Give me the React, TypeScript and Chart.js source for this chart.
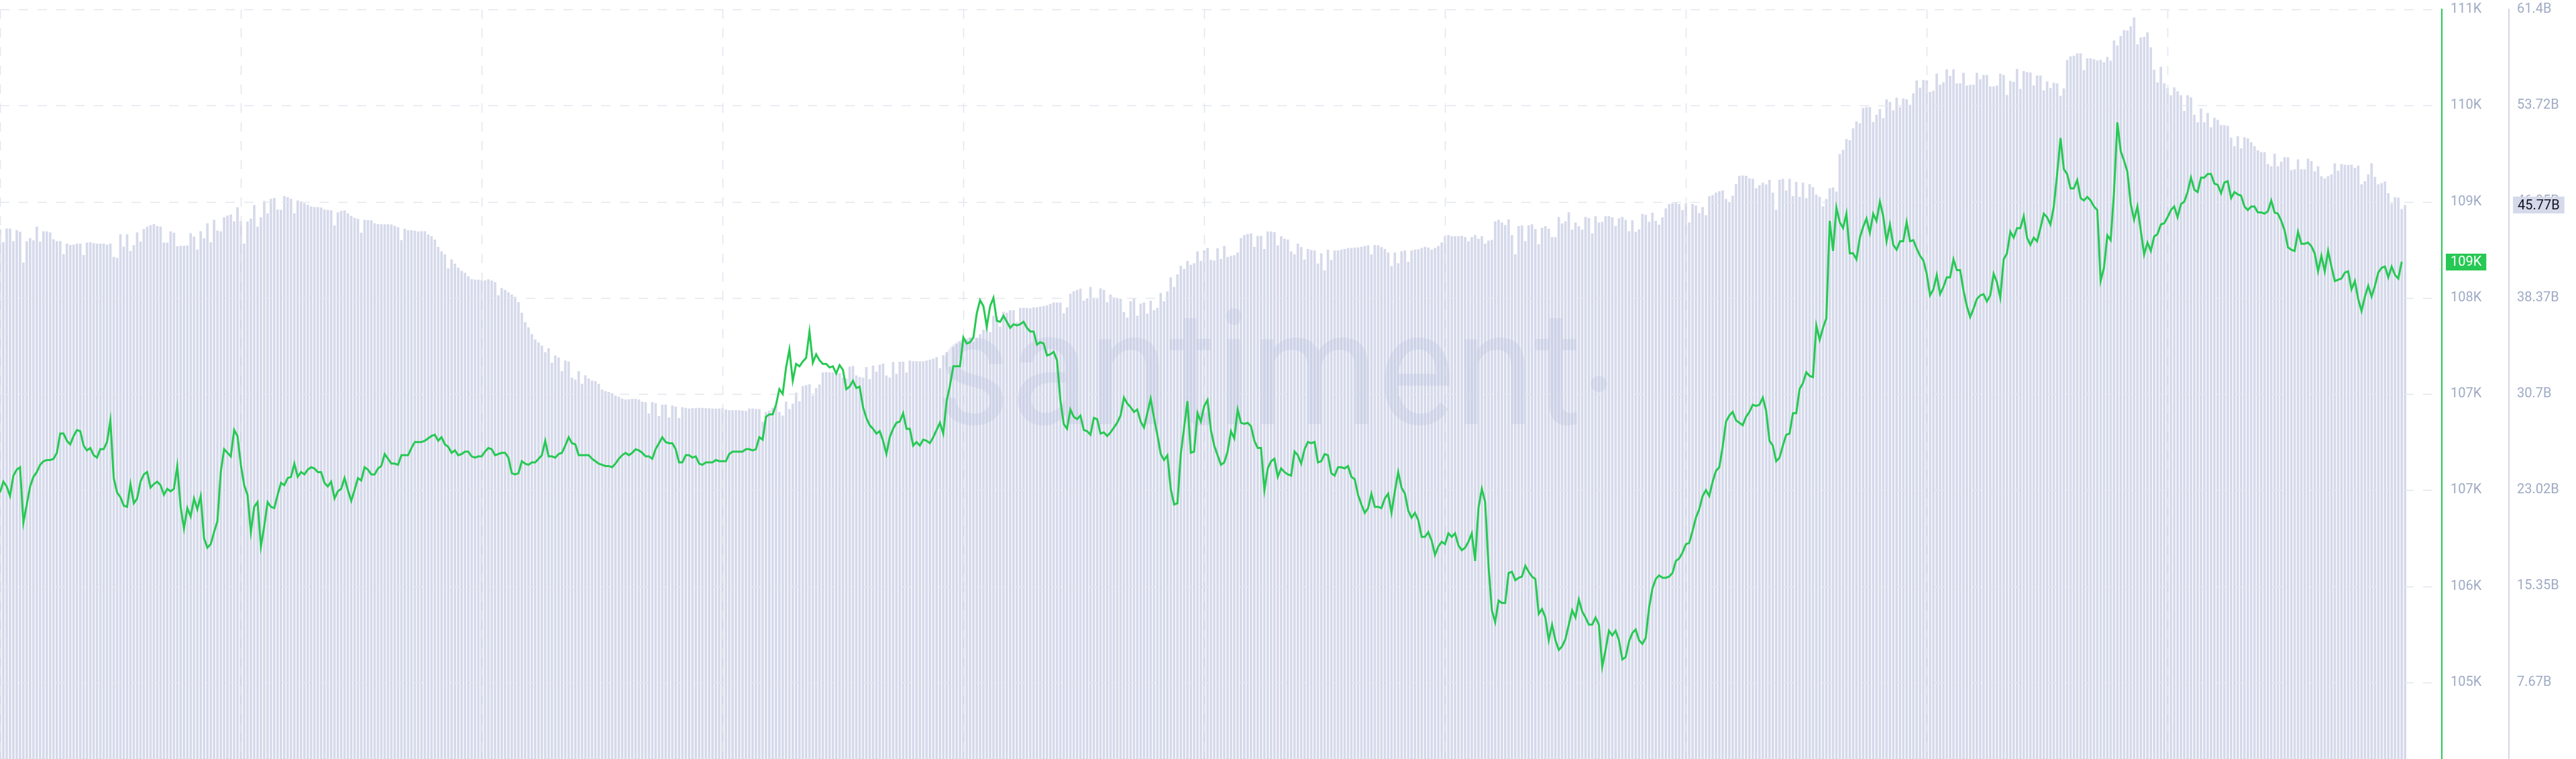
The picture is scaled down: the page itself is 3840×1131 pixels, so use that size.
import React, { useEffect, useRef } from 'react';
import { Chart, registerables } from 'chart.js';

Chart.register(...registerables);

// Hourly traded volume, billions USD (one bar per hour, 720 hours)
const volumeB: number[] = [
  43.82, 42.79, 43.89, 43.87, 42.89, 43.77, 43.63, 41.17, 42.87, 43.13,
  42.94, 44.04, 42.84, 43.68, 43.66, 43.58, 43.03, 42.89, 42.89, 41.84,
  42.68, 42.58, 42.60, 42.68, 42.68, 41.77, 42.77, 42.79, 42.72, 42.68,
  42.68, 42.68, 42.60, 42.68, 41.62, 41.55, 43.44, 42.44, 43.42, 42.10,
  42.56, 43.58, 42.84, 43.85, 44.04, 44.16, 44.25, 44.09, 44.04, 42.77,
  42.77, 43.66, 43.56, 42.48, 42.51, 42.51, 42.53, 43.51, 43.25, 42.22,
  43.68, 43.11, 44.30, 42.79, 44.59, 43.73, 43.66, 44.78, 44.92, 45.02,
  44.47, 45.59, 44.49, 42.68, 44.44, 44.68, 45.76, 44.04, 44.78, 46.09,
  45.09, 46.26, 46.33, 45.40, 45.38, 46.48, 46.38, 46.26, 45.09, 46.12,
  46.04, 45.90, 45.78, 45.64, 45.61, 45.61, 45.57, 45.40, 45.38, 45.33,
  44.13, 45.18, 45.30, 45.33, 45.09, 44.90, 44.75, 44.66, 43.56, 44.59,
  44.56, 44.54, 44.30, 44.25, 44.23, 44.23, 44.23, 44.21, 44.11, 43.99,
  42.96,
  43.87, 43.75, 43.75, 43.72, 43.65, 43.68, 43.68, 43.41, 43.27, 43.01,
  42.43, 42.07, 41.83, 40.71, 41.43, 41.07, 40.76, 40.52, 40.35, 40.07,
  39.85, 39.80, 39.80, 39.78, 39.75, 39.83, 39.73, 39.61, 38.56, 39.13,
  38.99, 38.80, 38.63, 38.44, 38.01, 37.17, 36.41, 36.00, 35.45, 35.04,
  34.80, 34.54, 34.02, 34.33, 33.18, 33.75, 33.59, 32.51, 33.35, 33.27,
  31.98, 31.82, 32.51, 31.50, 32.17, 31.91, 31.74, 31.70, 31.48, 31.03,
  30.91, 30.84, 30.74, 30.55, 30.45, 30.31, 30.24, 30.26, 30.29, 30.29,
  30.24, 30.07, 30.02, 29.11, 30.02, 29.95, 28.92, 29.83, 29.83, 28.80,
  29.76, 29.66, 28.76, 29.62, 29.57, 29.52, 29.54, 29.54, 29.57, 29.57,
  29.54, 29.54, 29.52, 29.50, 29.52, 29.57, 29.43, 29.38, 29.38, 29.38,
  29.38, 29.35, 29.33, 29.52, 29.52, 29.47, 29.47, 28.47, 29.23, 29.35,
  29.57, 29.76, 29.23, 28.95, 30.07, 29.47, 29.90, 30.79, 30.09, 31.31,
  31.39, 31.46, 30.55, 31.15, 31.43, 32.39, 32.44, 32.41, 32.41, 32.34,
  32.34, 31.98, 31.91, 32.87, 32.92, 32.15, 32.03, 31.98, 32.82, 31.86,
  32.94, 32.46, 33.01, 33.11, 32.15, 31.98, 33.23, 32.29, 33.25, 33.25,
  32.39, 33.35, 33.30, 33.30, 33.30, 33.30, 33.35, 33.42, 33.49, 33.61,
  32.75, 33.78, 34.02, 32.87, 34.45, 34.68, 34.83, 34.97, 35.02, 35.21,
  34.85, 35.16, 35.45, 35.81, 36.41, 35.62, 36.93, 36.84, 36.05, 37.24,
  37.17, 37.36, 37.36, 36.41, 37.55, 37.55, 37.55, 37.51, 37.60, 37.60,
  37.65, 37.70, 37.75, 37.87, 37.98, 37.98, 37.98, 37.12, 37.60, 38.68,
  38.87, 38.99, 39.08, 38.13, 38.32, 39.23, 38.27, 38.27, 39.11, 38.99,
  38.01, 38.61, 38.39, 38.34, 38.27, 37.22, 36.77, 38.08, 38.27, 36.93,
  37.89, 37.98, 37.08, 38.13, 37.36, 37.55, 38.75, 38.08, 38.87, 39.99,
  39.23, 40.23, 40.90, 40.66, 41.31, 41.00, 41.12, 42.07, 41.31, 42.15,
  42.34, 41.38, 41.33, 42.31, 41.47, 42.49, 41.62, 41.70, 41.76, 41.97,
  43.13, 43.36, 43.45, 43.50, 42.43, 43.30, 43.30, 42.26, 43.65, 43.65,
  43.59, 42.55, 43.27, 43.07, 43.01, 42.05, 41.82, 42.69, 42.40, 41.41,
  42.26, 42.17, 42.14, 41.09, 41.91, 40.54, 42.20, 41.38, 42.14, 42.14,
  42.20, 42.26, 42.34, 42.34, 42.37, 42.37, 42.43, 42.49, 42.55, 41.82,
  42.58, 42.55, 42.40, 42.26, 41.97, 40.89, 41.97, 41.12, 42.08, 42.14,
  41.24, 42.14, 42.20, 42.23, 42.34, 42.43, 42.37, 42.20, 42.34, 42.49,
  42.78, 43.27, 43.36, 43.27, 43.27, 43.27, 43.30, 43.21, 42.87, 43.21,
  43.36, 43.07, 43.27, 42.69, 42.92, 42.98, 44.46, 44.58, 44.37, 44.17,
  44.61, 43.36, 41.82, 44.08, 44.14, 42.89, 44.14, 44.23, 43.85, 42.63,
  43.94, 44.08, 43.88, 43.21, 43.21, 44.81, 44.29, 44.46, 45.19, 43.79,
  44.37, 44.08, 43.79, 44.81, 44.72, 43.50, 44.87, 44.37, 44.43, 44.87,
  44.88, 44.78, 44.09, 44.71, 44.81, 44.57, 43.68, 44.54, 43.62, 43.82,
  45.05, 44.98, 44.43, 45.15, 44.50, 44.20, 44.78, 45.49, 45.84, 45.90,
  45.94, 45.84, 45.36, 45.90, 44.37, 45.84, 45.73, 45.12, 45.60, 44.95,
  46.48, 46.55, 46.76, 46.86, 46.93, 46.25, 46.01, 46.52, 47.44, 48.09,
  48.12, 48.09, 47.89, 47.85, 47.10, 47.34, 47.54, 47.41, 47.78, 46.76,
  45.39, 47.78, 47.85, 46.93, 47.85, 46.48, 47.61, 46.42, 47.54, 46.31,
  47.44, 47.20, 46.59, 46.42, 45.66, 46.25, 47.10, 47.17, 46.83, 49.83,
  50.17, 51.03, 50.93, 51.88, 52.43, 52.29, 53.52, 53.59, 53.59, 52.39,
  52.97, 53.42, 52.70, 54.20, 54.00, 53.32, 54.34, 53.59, 54.27, 54.20,
  53.76, 54.68, 55.71, 55.13, 55.74, 55.71, 54.79, 54.89, 56.25, 55.37,
  55.57, 56.60, 56.08, 56.60, 55.47, 55.47, 56.32, 55.30, 55.37, 55.37,
  56.32, 55.81, 56.15, 56.15, 55.23, 55.23, 55.30, 56.25, 56.15, 54.55,
  55.67, 55.60, 56.63, 55.03, 56.46, 56.39, 56.34, 55.32, 56.10, 56.10,
  54.91, 55.63, 55.10, 55.53, 55.48, 54.48, 55.08, 57.35, 57.63, 57.68,
  57.87, 57.87, 56.54, 57.47, 57.47, 57.40, 57.30, 57.35, 57.16, 57.59,
  57.28, 58.90, 58.50, 59.26, 59.74, 59.69, 60.03, 60.74, 58.59, 59.14,
  59.19, 59.55, 58.35, 56.56, 55.55, 56.80, 55.48, 55.12, 54.53, 55.15,
  54.84, 54.53, 53.28, 54.53, 54.36, 52.97, 52.37, 53.47, 52.37, 53.12,
  51.97, 52.73, 52.57, 52.16, 52.14, 52.09, 51.13, 50.46, 51.25, 50.29,
  51.18, 51.08, 50.77, 50.46, 50.13, 49.98, 49.98, 49.03, 48.86, 49.86,
  48.86, 49.22, 49.58, 49.58, 48.55, 48.62, 49.41, 48.62, 48.62, 49.46,
  49.27, 48.45, 48.86, 48.07, 47.90, 48.07, 48.21, 49.10, 48.50, 49.03,
  48.98, 48.96, 48.98, 48.74, 48.91, 47.43, 47.66, 48.21, 49.10, 48.02,
  47.43, 47.50, 47.64, 46.71, 45.87, 46.40, 46.35, 45.44, 45.77,
];

// Hourly price, thousands USD (same hours as the bars)
const priceK: number[] = [
  106.58, 106.67, 106.63, 106.55, 106.72, 106.77, 106.79, 106.33, 106.48, 106.63,
  106.71, 106.75, 106.81, 106.84, 106.85, 106.85, 106.86, 106.91, 107.07, 107.07,
  107.01, 106.98, 107.05, 107.10, 107.09, 106.97, 106.93, 106.95, 106.89, 106.87,
  106.94, 106.94, 107.00, 107.18, 106.70, 106.58, 106.54, 106.47, 106.46, 106.65,
  106.49, 106.53, 106.67, 106.73, 106.75, 106.62, 106.65, 106.67, 106.64, 106.56,
  106.61, 106.59, 106.61, 106.80, 106.46, 106.28, 106.45, 106.38, 106.53, 106.44,
  106.55, 106.20, 106.12, 106.15, 106.25, 106.34, 106.75, 106.94, 106.91, 106.88,
  107.10, 107.05, 106.81, 106.64, 106.56, 106.25, 106.46, 106.50, 106.13, 106.30,
  106.50, 106.46, 106.45, 106.56, 106.66, 106.64, 106.70, 106.71, 106.82, 106.71,
  106.75, 106.73, 106.77, 106.79, 106.78, 106.75, 106.75, 106.66, 106.63, 106.67,
  106.53, 106.59, 106.61, 106.70, 106.60, 106.51, 106.60, 106.70, 106.68, 106.79,
  106.77, 106.73, 106.73, 106.78, 106.80, 106.90, 106.86, 106.82, 106.82, 106.81,
  106.89,
  106.89, 106.89, 106.95, 107.00, 107.00, 107.00, 107.01, 107.03, 107.05, 107.06,
  107.01, 107.04, 106.98, 106.96, 106.91, 106.93, 106.89, 106.90, 106.92, 106.92,
  106.88, 106.87, 106.88, 106.88, 106.92, 106.95, 106.94, 106.89, 106.90, 106.91,
  106.91, 106.87, 106.74, 106.73, 106.74, 106.84, 106.82, 106.81, 106.83, 106.83,
  106.86, 106.89, 107.01, 106.88, 106.88, 106.87, 106.90, 106.91, 106.97, 107.04,
  106.99, 106.98, 106.89, 106.89, 106.89, 106.89, 106.86, 106.84, 106.82, 106.81,
  106.80, 106.80, 106.79, 106.82, 106.86, 106.89, 106.91, 106.89, 106.91, 106.94,
  106.93, 106.91, 106.88, 106.88, 106.86, 106.94, 106.99, 107.04, 107.00, 106.99,
  106.99, 106.94, 106.83, 106.83, 106.89, 106.89, 106.87, 106.88, 106.82, 106.81,
  106.83, 106.83, 106.83, 106.85, 106.84, 106.84, 106.84, 106.90, 106.92, 106.92,
  106.92, 106.92, 106.94, 106.94, 106.93, 106.94, 107.04, 107.02, 107.21, 107.23,
  107.23, 107.31, 107.44, 107.40, 107.62, 107.77, 107.51, 107.65, 107.63,
  107.67, 107.70, 107.92, 107.66, 107.73, 107.68, 107.65, 107.65, 107.62, 107.63,
  107.57, 107.64, 107.60, 107.44, 107.46, 107.51, 107.45, 107.46, 107.29, 107.20,
  107.14, 107.11, 107.07, 107.09, 107.01, 106.90, 107.04, 107.11, 107.16, 107.17,
  107.24, 107.11, 107.11, 106.97, 107.00, 106.97, 107.02, 107.01, 106.99, 107.04,
  107.10, 107.16, 107.07, 107.34, 107.47, 107.63, 107.63, 107.63, 107.87, 107.82,
  107.83, 107.87, 108.07, 108.18, 108.13, 107.96, 108.13, 108.20, 108.01, 108.00,
  108.05, 108.00, 107.95, 107.98, 107.97, 107.98, 108.00, 107.95, 107.92, 107.92,
  107.81, 107.83, 107.82, 107.72, 107.73, 107.75, 107.68, 107.35, 107.15, 107.11,
  107.27, 107.21, 107.19, 107.22, 107.10, 107.09, 107.06, 107.20, 107.19, 107.07,
  107.08, 107.05, 107.08, 107.12, 107.16, 107.22, 107.37, 107.32, 107.29, 107.25,
  107.27, 107.17, 107.12, 107.24, 107.36, 107.20, 107.06, 106.90, 106.85, 106.89,
  106.61, 106.48, 106.49, 106.90, 107.12, 107.34, 106.91, 106.92, 107.24, 107.17,
  107.30, 107.35, 107.10, 106.97, 106.89, 106.81, 106.83, 106.92, 107.09, 107.03,
  107.27, 107.16, 107.15, 107.16, 107.13, 107.01, 106.95, 106.95, 106.60, 106.78,
  106.84, 106.86, 106.71, 106.78, 106.75, 106.73, 106.72, 106.92, 106.89, 106.82,
  106.94, 107.00, 106.99, 107.00, 106.83, 106.84, 106.90, 106.89, 106.74, 106.72,
  106.79, 106.79, 106.78, 106.80, 106.71, 106.69, 106.56, 106.48, 106.41, 106.45,
  106.57, 106.46, 106.46, 106.45, 106.53, 106.57, 106.41, 106.59, 106.75, 106.62,
  106.57, 106.43, 106.37, 106.41, 106.35, 106.21, 106.21, 106.25, 106.18, 106.06,
  106.13, 106.17, 106.15, 106.24, 106.21, 106.24, 106.14, 106.10, 106.12, 106.17,
  106.24, 106.01, 106.45, 106.61, 106.50, 105.97, 105.60, 105.50, 105.68, 105.66,
  105.66, 105.91, 105.92, 105.85, 105.87, 105.88, 105.97, 105.92, 105.88, 105.86,
  105.57, 105.61, 105.54, 105.35, 105.48, 105.35, 105.27, 105.30, 105.36, 105.48,
  105.60, 105.54, 105.69, 105.59, 105.54, 105.48, 105.48, 105.54, 105.48, 105.13,
  105.27, 105.43, 105.39, 105.43, 105.35, 105.19, 105.21, 105.34, 105.41, 105.44,
  105.35, 105.32, 105.37, 105.62, 105.78, 105.86, 105.89, 105.87, 105.87, 105.88,
  105.91, 106.01, 106.03, 106.08, 106.15, 106.16, 106.26, 106.37, 106.44, 106.55,
  106.60, 106.55, 106.67, 106.76, 106.79, 106.96, 107.17, 107.22, 107.25, 107.18,
  107.16, 107.14, 107.21, 107.25, 107.31, 107.30, 107.31, 107.37, 107.26, 107.01,
  106.97, 106.84, 106.87, 106.97, 107.06, 107.07, 107.24, 107.24, 107.44, 107.49,
  107.58, 107.55, 107.54, 107.97, 107.85, 107.95, 108.03, 108.84, 108.59, 108.95,
  108.83, 108.78, 108.90, 108.57, 108.57, 108.52, 108.70, 108.79, 108.86, 108.74,
  108.90, 108.84, 109.00, 108.88, 108.67, 108.81, 108.64, 108.60, 108.67, 108.67,
  108.83, 108.67, 108.68, 108.61, 108.55, 108.51, 108.40, 108.22, 108.27, 108.39,
  108.23, 108.29, 108.37, 108.37, 108.52, 108.43, 108.43, 108.26, 108.13, 108.04,
  108.11, 108.19, 108.22, 108.23, 108.17, 108.22, 108.40, 108.33, 108.20, 108.52,
  108.57, 108.75, 108.70, 108.78, 108.78, 108.88, 108.70, 108.64, 108.70, 108.67,
  108.78, 108.90, 108.87, 108.81, 108.96, 109.23, 109.53, 109.27, 109.23, 109.11,
  109.11, 109.18, 109.03, 109.01, 109.04, 109.01, 108.96, 108.93, 108.34, 108.45,
  108.72, 108.68, 109.08, 109.66, 109.42, 109.34, 109.25, 108.98, 108.85, 108.96,
  108.76, 108.56, 108.66, 108.59, 108.71, 108.73, 108.81, 108.82, 108.87, 108.93,
  108.96, 108.87, 108.98, 109.00, 109.08, 109.20, 109.10, 109.08, 109.20, 109.20,
  109.23, 109.23, 109.15, 109.14, 109.07, 109.16, 109.17, 109.03, 109.08, 109.06,
  109.05, 108.96, 108.93, 108.96, 108.96, 108.91, 108.91, 108.90, 108.92, 109.01,
  108.91, 108.90, 108.84, 108.76, 108.62, 108.60, 108.59, 108.75, 108.65, 108.65,
  108.66, 108.63, 108.57, 108.42, 108.55, 108.42, 108.59, 108.46, 108.34, 108.35,
  108.36, 108.41, 108.42, 108.27, 108.34, 108.19, 108.09, 108.21, 108.30, 108.21,
  108.30, 108.41, 108.45, 108.46, 108.37, 108.46, 108.39, 108.36, 108.50,
];

const priceTicks = [110.6, 109.8, 109.0, 108.2, 107.4, 106.6, 105.8, 105.0];
const priceTickLabels = ['111K', '110K', '109K', '108K', '107K', '107K', '106K', '105K'];
const volumeTicks = [61.4, 53.725, 46.05, 38.375, 30.7, 23.025, 15.35, 7.675];
const volumeTickLabels = ['61.4B', '53.72B', '46.05B', '38.37B', '30.7B', '23.02B', '15.35B', '7.67B'];
const dayGridHours = [0, 72, 144, 216, 288, 360, 432, 504, 576, 648];
const watermarkText = 'santiment';

const GREEN = '#26c953';
const BAR = '#d5d9ea';
const GRID = '#e3e6ee';
const TICK = '#9faac4';
const FONT = 'Roboto';

export default function App() {
  const ref = useRef<HTMLCanvasElement>(null);

  useEffect(() => {
    const canvas = ref.current;
    if (!canvas) return;

    const underlay = {
      id: 'underlay',
      afterDatasetDraw(chart: any, args: any) {
        if (args.index !== 1) return;
        const { ctx, chartArea: a } = chart;
        const xs = chart.scales.x;
        const yp = chart.scales.yPrice;
        ctx.save();
        ctx.beginPath();
        ctx.rect(a.left, 0, a.right - a.left, a.bottom);
        ctx.clip();
        ctx.strokeStyle = GRID;
        ctx.lineWidth = 1.6;
        ctx.setLineDash([14, 14]);
        for (const v of priceTicks) {
          const y = Math.round(yp.getPixelForValue(v)) + 0.5;
          ctx.beginPath();
          ctx.moveTo(a.left, y);
          ctx.lineTo(a.right, y);
          ctx.stroke();
        }
        for (const h of dayGridHours) {
          const px = Math.round(xs.getPixelForValue(h)) + 0.5;
          ctx.beginPath();
          ctx.moveTo(px, a.top);
          ctx.lineTo(px, a.bottom);
          ctx.stroke();
        }
        ctx.setLineDash([]);
        // watermark
        const W = a.right - a.left;
        ctx.fillStyle = 'rgba(186,192,222,0.30)';
        ctx.font = `400 240px ${FONT}`;
        ctx.textBaseline = 'alphabetic';
        const tw = ctx.measureText(watermarkText).width;
        const targetW = W * 0.2646;
        ctx.save();
        ctx.translate(a.left + W * 0.3832, 632);
        ctx.scale(targetW / tw, 1);
        ctx.fillText(watermarkText, 0, 0);
        ctx.restore();
        ctx.beginPath();
        ctx.arc(a.left + W * 0.6548, 572, 12, 0, Math.PI * 2);
        ctx.fill();
        ctx.restore();
      },
    };

    const valueLabels = {
      id: 'valueLabels',
      afterDraw(chart: any) {
        const { ctx } = chart;
        const yp = chart.scales.yPrice;
        const yv = chart.scales.yVol;
        const lastP = priceK[priceK.length - 1];
        const lastV = volumeB[volumeB.length - 1];
        ctx.save();
        ctx.font = `400 20px ${FONT}`;
        ctx.textBaseline = 'middle';
        ctx.textAlign = 'left';
        const pText = Math.round(lastP) + 'K';
        const py = yp.getPixelForValue(lastP);
        const pw = ctx.measureText(pText).width + 14;
        ctx.fillStyle = GREEN;
        ctx.fillRect(yp.left + 6, Math.round(py - 12.5), pw, 25);
        ctx.fillStyle = '#ffffff';
        ctx.fillText(pText, yp.left + 13, py + 1);
        const vText = lastV.toFixed(2) + 'B';
        const vy = yv.getPixelForValue(lastV);
        const vw = ctx.measureText(vText).width + 14;
        ctx.fillStyle = '#d6d9ea';
        ctx.fillRect(yv.left + 6, Math.round(vy - 12.5), vw, 25);
        ctx.fillStyle = '#0e1220';
        ctx.fillText(vText, yv.left + 13, vy + 1);
        ctx.restore();
      },
    };

    const fitAxis = (s: any) => {
      s.width = 100;
      s.paddingTop = 0;
      s.paddingBottom = 0;
    };

    const chart = new Chart(canvas, {
      type: 'bar',
      data: {
        datasets: [
          {
            type: 'line',
            label: 'Price',
            data: priceK.map((v, i) => ({ x: i, y: v })),
            yAxisID: 'yPrice',
            borderColor: GREEN,
            borderWidth: 3,
            pointRadius: 0,
            tension: 0,
            order: 0,
          } as any,
          {
            type: 'bar',
            label: 'Volume',
            data: volumeB.map((v, i) => ({ x: i, y: v })),
            yAxisID: 'yVol',
            backgroundColor: BAR,
            barThickness: 3,
            order: 1,
          } as any,
        ],
      },
      options: {
        animation: false,
        responsive: false,
        maintainAspectRatio: false,
        layout: { padding: { top: 14, left: 0, right: 0, bottom: 0 } },
        plugins: { legend: { display: false }, tooltip: { enabled: false } },
        events: [],
        scales: {
          x: {
            type: 'linear',
            min: 0,
            max: 730,
            offset: false,
            display: false,
          },
          yPrice: {
            type: 'linear',
            position: 'right',
            weight: 0,
            min: 104.362,
            max: 110.6,
            afterBuildTicks: (s: any) => {
              s.ticks = priceTicks.map((v) => ({ value: v }));
            },
            afterFit: fitAxis,
            grid: { display: false, drawTicks: false },
            border: { display: true, color: GREEN, width: 2 },
            ticks: {
              padding: 13,
              color: TICK,
              font: { family: FONT, size: 20 },
              autoSkip: false,
              callback: (_v: any, i: number) => priceTickLabels[i],
            },
          },
          yVol: {
            type: 'linear',
            position: 'right',
            weight: 1,
            min: 1.553,
            max: 61.4,
            afterBuildTicks: (s: any) => {
              s.ticks = volumeTicks.map((v) => ({ value: v }));
            },
            afterFit: fitAxis,
            grid: { display: false, drawTicks: false },
            border: { display: true, color: '#d3d6e4', width: 2 },
            ticks: {
              padding: 12,
              color: TICK,
              font: { family: FONT, size: 20 },
              autoSkip: false,
              callback: (_v: any, i: number) => volumeTickLabels[i],
            },
          },
        },
      } as any,
      plugins: [underlay, valueLabels],
    });

    return () => {
      chart.destroy();
    };
  }, []);

  return (
    <div style={{ position: 'absolute', left: 0, top: 0, width: 3840, height: 1131, background: '#ffffff' }}>
      <canvas ref={ref} width={3840} height={1131} style={{ display: 'block', width: 3840, height: 1131 }} />
    </div>
  );
}
